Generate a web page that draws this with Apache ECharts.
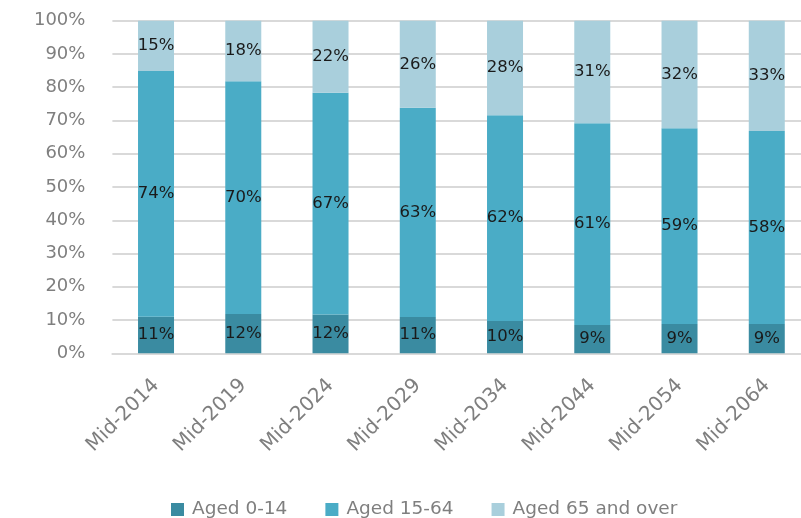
<!DOCTYPE html>
<html>
<head>
<meta charset="utf-8">
<script src="https://cdn.jsdelivr.net/npm/echarts@6/dist/echarts.min.js"></script>
<style>html,body{margin:0;padding:0;background:#fff;}#c{width:801px;height:518px;}</style>
</head>
<body>
<div id="c"></div>
<script>
var categories = ['Mid-2014','Mid-2019','Mid-2024','Mid-2029','Mid-2034','Mid-2044','Mid-2054','Mid-2064'];
var aged0to14 = [11.0, 11.8, 11.7, 10.9, 9.7, 8.5, 8.8, 8.8];
var aged15to64 = [73.9, 70.0, 66.6, 62.9, 61.9, 60.7, 58.9, 58.0];
var aged65plus = [15.1, 18.2, 21.7, 26.2, 28.4, 30.8, 32.3, 33.2];
var yTicks = [0,10,20,30,40,50,60,70,80,90,100];

var font = '"DejaVu Sans", sans-serif';
var chart = echarts.init(document.getElementById('c'));
function ser(name, data, color) {
  return {
    name: name, type: 'bar', stack: 'all', data: data, barWidth: 36,
    itemStyle: {color: color},
    label: {show: true, position: 'inside', color: '#1a1a1a', fontSize: 16.5, fontFamily: font,
      formatter: function(p){ return Math.round(p.value) + '%'; }}
  };
}
chart.setOption({
  animation: false,
  grid: {left: 112.4, width: 698, top: 20.7, bottom: 164.7, outerBoundsMode: 'none', containLabel: false},
  legend: {
    left: 166, top: 495, itemWidth: 13, itemHeight: 13, itemGap: 38, icon: 'rect',
    textStyle: {color: '#7f7f7f', fontSize: 18.5, fontFamily: font, padding: [0,0,0,3]},
    data: ['Aged 0-14','Aged 15-64','Aged 65 and over']
  },
  xAxis: {
    type: 'category', data: categories,
    axisLine: {lineStyle: {color: '#d9d9d9', width: 2}},
    axisTick: {show: false},
    axisLabel: {rotate: 45, color: '#7f7f7f', fontSize: 20, fontFamily: font, margin: 29}
  },
  yAxis: {
    type: 'value', min: 0, max: 100, interval: 10,
    axisLine: {show: false}, axisTick: {show: false},
    splitLine: {lineStyle: {color: '#d9d9d9', width: 2}},
    axisLabel: {color: '#7f7f7f', fontSize: 18, fontFamily: font, margin: 27,
      formatter: function(v){ return yTicks.indexOf(v) >= 0 ? v + '%' : ''; }}
  },
  series: [
    ser('Aged 0-14', aged0to14, '#3a8ba1'),
    ser('Aged 15-64', aged15to64, '#4aacc6'),
    ser('Aged 65 and over', aged65plus, '#a9cfdc')
  ]
});
</script>
</body>
</html>
